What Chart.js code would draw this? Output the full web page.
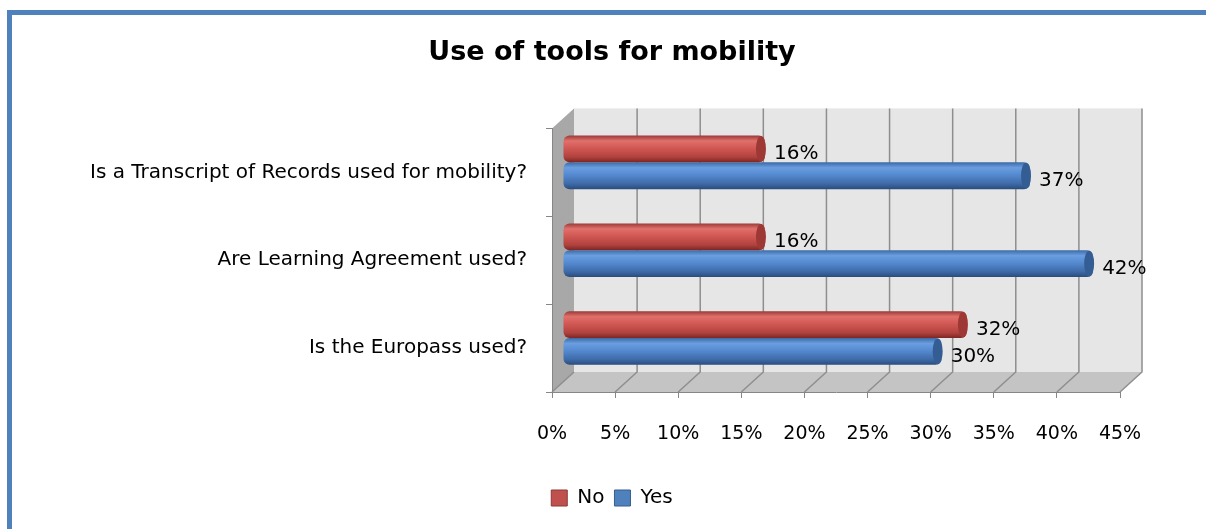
<!DOCTYPE html>
<html>
<head>
<meta charset="utf-8">
<script src="https://cdn.jsdelivr.net/npm/chart.js@4"></script>
<style>
  html, body { margin:0; padding:0; background:#fff; overflow:hidden; }
  #marco { position:absolute; left:7px; top:10px; width:1300px; height:600px;
           border-left:5px solid #4f81bd; border-top:5px solid #4f81bd; }
  #wrap { position:absolute; left:0; top:0; width:1206px; height:529px; }
</style>
</head>
<body>
<div id="marco"></div>
<div id="wrap"><canvas id="grafico" width="1206" height="529"></canvas></div>
<script>
//Datos
const preguntas = [
    'Is a Transcript of Records used for mobility?',
    'Are Learning Agreement used?',
    'Is the Europass used?'
]
const valoresNo = [16, 16, 32]
const valoresYes = [37, 42, 30]
const ticksX = [0, 5, 10, 15, 20, 25, 30, 35, 40, 45]

//Profundidad del efecto 3D (pared del fondo y barras a media profundidad)
const PROF_X = 22
const PROF_Y = 20

const degradados = {
    No: ['#9a3a37', '#e0706b', '#d35955', '#b1423e', '#7a2624'],
    Yes: ['#3c6aa6', '#6a9ee0', '#568bd2', '#3e6aa8', '#2a4c7c']
}
const tapas = { No: '#9e3835', Yes: '#345d94' }

//Paredes, piso y grilla en perspectiva
const fondo3d = {
    id: 'fondo3d',
    afterLayout(chart) {
        //las etiquetas largas del eje y no se recortan en el borde izquierdo
        chart.scales.y.left = 0
    },
    beforeDraw(chart) {
        const { ctx, chartArea: a, scales: { x } } = chart
        ctx.save()
        //pared izquierda
        ctx.fillStyle = '#a8a8a8'
        ctx.beginPath()
        ctx.moveTo(a.left, a.top)
        ctx.lineTo(a.left + PROF_X, a.top - PROF_Y)
        ctx.lineTo(a.left + PROF_X, a.bottom - PROF_Y)
        ctx.lineTo(a.left, a.bottom)
        ctx.closePath()
        ctx.fill()
        //pared del fondo
        ctx.fillStyle = '#e6e6e6'
        ctx.fillRect(a.left + PROF_X, a.top - PROF_Y, a.right - a.left, a.bottom - a.top)
        //piso
        ctx.fillStyle = '#c4c4c4'
        ctx.beginPath()
        ctx.moveTo(a.left, a.bottom)
        ctx.lineTo(a.left + PROF_X, a.bottom - PROF_Y)
        ctx.lineTo(a.right + PROF_X, a.bottom - PROF_Y)
        ctx.lineTo(a.right, a.bottom)
        ctx.closePath()
        ctx.fill()
        //lineas de grilla
        ctx.strokeStyle = '#8e8e8e'
        ctx.lineWidth = 1.5
        ticksX.forEach(v => {
            const px = x.getPixelForValue(v)
            ctx.beginPath()
            ctx.moveTo(px, a.bottom)
            ctx.lineTo(px + PROF_X, a.bottom - PROF_Y)
            if (v !== ticksX[0]) ctx.lineTo(px + PROF_X, a.top - PROF_Y)
            ctx.stroke()
        })
        ctx.restore()
    },
    beforeDatasetsDraw(chart) {
        const { ctx } = chart
        ctx.save()
        ctx.translate(PROF_X / 2, -PROF_Y / 2)
        //degradado tipo cilindro para cada barra
        chart.data.datasets.forEach((ds, i) => {
            const colores = degradados[ds.label]
            chart.getDatasetMeta(i).data.forEach(el => {
                const top = el.y - el.height / 2
                const g = ctx.createLinearGradient(0, top, 0, top + el.height)
                g.addColorStop(0, colores[0])
                g.addColorStop(0.2, colores[1])
                g.addColorStop(0.45, colores[2])
                g.addColorStop(0.8, colores[3])
                g.addColorStop(1, colores[4])
                el.options = Object.assign({}, el.options, { backgroundColor: g, borderWidth: 0 })
            })
        })
    },
    afterDatasetsDraw(chart) {
        const { ctx } = chart
        chart.data.datasets.forEach((ds, i) => {
            chart.getDatasetMeta(i).data.forEach((el, j) => {
                //tapa del cilindro
                ctx.fillStyle = tapas[ds.label]
                ctx.beginPath()
                ctx.ellipse(el.x - 4, el.y, 5, el.height / 2 - 0.5, 0, 0, Math.PI * 2)
                ctx.fill()
                //etiqueta de valor
                ctx.fillStyle = '#000'
                ctx.font = '20px "DejaVu Sans"'
                ctx.textAlign = 'left'
                ctx.textBaseline = 'middle'
                ctx.fillText(`${ds.data[j]}%`, el.x + 9, el.y + 5)
            })
        })
        ctx.restore()
    }
}

const ctx = document.getElementById('grafico').getContext('2d')
new Chart(ctx, {
    type: 'bar',
    data: {
        labels: preguntas,
        datasets: [
            { label: 'No', data: valoresNo, backgroundColor: '#c0504d', borderColor: '#8c3836', borderWidth: 1 },
            { label: 'Yes', data: valoresYes, backgroundColor: '#4f81bd', borderColor: '#385d8a', borderWidth: 1 }
        ]
    },
    options: {
        indexAxis: 'y',
        responsive: false,
        animation: false,
        categoryPercentage: 0.61,
        barPercentage: 1,
        borderRadius: 6,
        borderSkipped: false,
        layout: { padding: { top: 20, left: 104, right: 86, bottom: 11 } },
        plugins: {
            title: {
                display: true,
                text: 'Use of tools for mobility',
                color: '#000',
                font: { family: 'DejaVu Sans', size: 27, weight: 'bold' },
                padding: { top: 17, bottom: 59 }
            },
            legend: {
                position: 'bottom',
                labels: {
                    color: '#000',
                    font: { family: 'DejaVu Sans', size: 20 },
                    boxWidth: 16,
                    boxHeight: 16,
                    padding: 10
                }
            },
            tooltip: { enabled: false }
        },
        scales: {
            x: {
                min: 0,
                max: 45,
                afterBuildTicks: s => { s.ticks = ticksX.map(v => ({ value: v })) },
                afterFit: s => { s.height = 86 },
                grid: { drawOnChartArea: false, drawTicks: true, tickLength: 6, color: '#868686' },
                border: { display: true, color: '#868686' },
                ticks: {
                    color: '#000',
                    padding: 25,
                    maxRotation: 0,
                    font: { family: 'DejaVu Sans', size: 19 },
                    callback: v => v + '%'
                }
            },
            y: {
                afterFit: s => { s.width = 448 },
                grid: { drawOnChartArea: false, drawTicks: true, tickLength: 6, color: '#868686', offset: true },
                border: { display: true, color: '#868686' },
                ticks: {
                    color: '#000',
                    padding: 19,
                    font: { family: 'DejaVu Sans', size: 20 }
                }
            }
        }
    },
    plugins: [fondo3d]
})
</script>
</body>
</html>
